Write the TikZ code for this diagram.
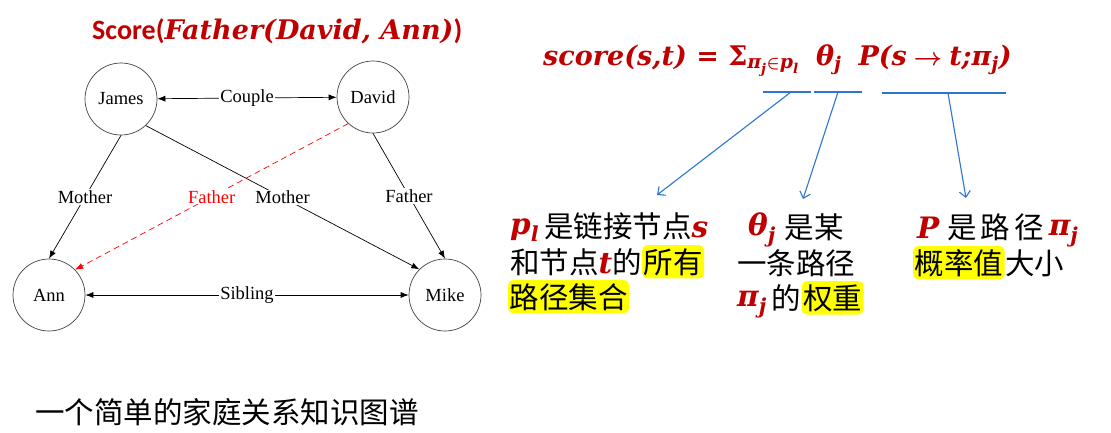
\documentclass[tikz,border=0pt]{standalone}
\usepackage{amsmath}
\usepackage{fontspec}
\setmainfont{Liberation Serif}
\newfontfamily\cjk{Noto Sans CJK SC}
\newfontfamily\carlito{Carlito}
\newfontfamily\mth{DejaVu Serif}
\usetikzlibrary{arrows.meta}
\definecolor{dred}{RGB}{192,0,0}
\definecolor{pblue}{RGB}{46,117,210}
\definecolor{hly}{RGB}{255,255,0}
\newcommand\mi[1]{\text{\mth\bfseries\itshape #1}}
\newcommand\rs[1]{\textcolor{dred}{$\mi{#1}$}}
\newcommand\rv[2]{\raisebox{2.5pt}{\textcolor{dred}{$\mi{#1}_{\mi{#2}}$}}\hspace{5pt}}
\begin{document}
\begin{tikzpicture}[x=1pt,y=-1pt,
 person/.style={circle,draw=black!75,line width=0.7pt,minimum size=72pt,inner sep=0pt,font=\fontsize{18.5}{18.5}\selectfont},
 rel/.style={draw=black,line width=0.7pt,-{Latex[length=8pt,width=6pt]}},
 birel/.style={draw=black,line width=0.7pt,{Latex[length=8pt,width=6pt]}-{Latex[length=8pt,width=6pt]}},
 lbl/.style={fill=white,inner sep=1pt,font=\fontsize{18.5}{18.5}\selectfont},
 pointer/.style={draw=pblue,line width=1.1pt,-{Straight Barb[length=6pt,width=11pt]}},
 uline/.style={draw=pblue,line width=1.1pt},
 txt/.style={anchor=base west,inner sep=0pt,font=\cjk\fontsize{29.5}{29.5}\selectfont},
 hl/.style={txt,fill=hly,rounded corners=5pt,inner xsep=1.5pt,inner ysep=3pt}
]
\fill[white] (0,0) rectangle (1111,432);
\useasboundingbox (0,0) rectangle (1111,432);

% title
\node[anchor=base west,inner sep=0pt] (title) at (92,39)
  {\textcolor{dred}{{\carlito\bfseries\fontsize{28}{28}\selectfont Score(}{\fontsize{27}{27}\selectfont$\mi{Father(David, Ann)}$}{\carlito\bfseries\fontsize{28}{28}\selectfont )}}};

% graph
\node[person] (James) at (121,99) {James};
\node[person] (David) at (373,97) {David};
\node[person] (Ann) at (49,295) {Ann};
\node[person] (Mike) at (445,295) {Mike};

\draw[birel] (James) -- node[lbl]{Couple} (David);
\draw[birel] (Ann) -- node[lbl]{Sibling} (Mike);
\draw[rel] (James.south) -- node[lbl]{Mother} (Ann.north);
\draw[rel] (James.313) -- node[lbl]{Mother} (Mike.135);
\draw[rel] (David.south) -- node[lbl]{Father} (Mike.north);
\draw[rel,draw=red,dash pattern=on 6pt off 4pt] (David.227) -- node[lbl,text=red]{Father} (Ann.44);

% formula
\node[anchor=base west,inner sep=0pt] (formula) at (543,65)
  {\textcolor{dred}{\fontsize{27}{27}\selectfont$\mi{score(s,t) = }\text{\mth\bfseries Σ}_{\mi{π}_{\mi{j}}\boldsymbol{\in}\mi{p}_{\mi{l}}}\hspace{17pt}\mi{θ}_{\mi{j}}\hspace{17pt}\mi{P(s}\boldsymbol{\rightarrow}\mi{t;π}_{\mi{j}}\mi{)}$}};

% underlines and pointers
\coordinate (u1a) at (763,92); \coordinate (u1b) at (811,92);
\coordinate (u2a) at (814,92); \coordinate (u2b) at (862,92);
\coordinate (u3a) at (882,93); \coordinate (u3b) at (1006,93);
\coordinate (p1) at (791,92); \coordinate (p2) at (838,92); \coordinate (p3) at (948,93);
\coordinate (t1) at (657,195); \coordinate (t2) at (803,199); \coordinate (t3) at (966,198);
\draw[uline] (u1a) -- (u1b);
\draw[uline] (u2a) -- (u2b);
\draw[uline] (u3a) -- (u3b);
\draw[pointer] (p1) -- (t1);
\draw[pointer] (p2) -- (t2);
\draw[pointer] (p3) -- (t3);

% block 1
\node[txt] (b1a) at (510,237) {\rv{p}{l}是链接节点\rs{s}};
\node[txt] (b1b) at (510,273) {和节点\rs{t}的};
\node[hl] (b1c) at (b1b.base east) {所有};
\node[hl] (b1d) at (508,308) {路径集合};

% block 2
\node[txt] (b2a) at (748,238) {\rv{θ}{j}\hspace{4pt}是某};
\node[txt] (b2b) at (737,274) {一条路径};
\node[txt] (b2c) at (737,309) {\rv{π}{j}的};
\node[hl] (b2d) at (b2c.base east) {权重};

% block 3
\node[txt] (b3a) at (917,238) {\rs{P}\hspace{8pt}是\hspace{4pt}路\hspace{4pt}径\hspace{5pt}\rv{π}{j}};
\node[hl] (b3b) at (913,274) {概率值};
\node[txt] (b3c) at (b3b.base east) {大小};

% caption
\node[anchor=west,inner sep=0pt] (caption) at (35,412) {\cjk\fontsize{29.5}{29.5}\selectfont 一个简单的家庭关系知识图谱};
\end{tikzpicture}
\end{document}
